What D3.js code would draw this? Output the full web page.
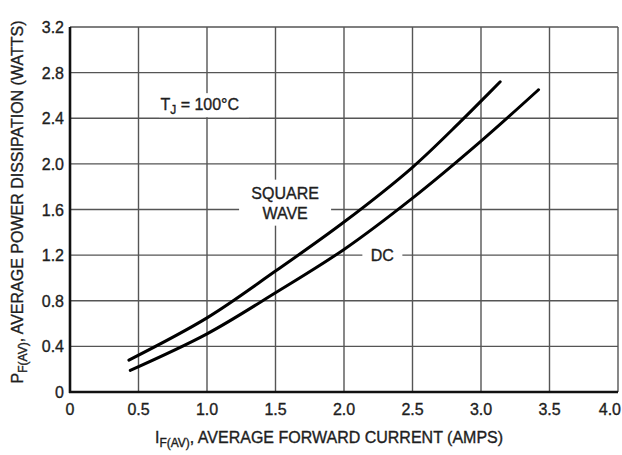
<!DOCTYPE html>
<meta charset="utf-8">
<script src="https://d3js.org/d3.v7.min.js"></script>
<style>
  body { margin: 0; background: #fff; }
  text { font-family: "Liberation Sans", Arial, sans-serif; fill: #1e1e1e; stroke: #1e1e1e; stroke-width: 0.35; }
</style>
<div id="chart"></div>
<script>

// tick values
const xTicks = [0, 0.5, 1.0, 1.5, 2.0, 2.5, 3.0, 3.5, 4.0]
const yTicks = [0, 0.4, 0.8, 1.2, 1.6, 2.0, 2.4, 2.8, 3.2]

// curves: [I F(AV) amps, P F(AV) watts]
const squareWave = [[0.43, 0.28], [1.0, 0.65], [1.5, 1.06], [2.0, 1.49], [2.5, 1.97], [2.85, 2.37], [3.0, 2.55], [3.14, 2.72]]
const dc = [[0.44, 0.19], [1.0, 0.51], [1.5, 0.87], [2.0, 1.25], [2.5, 1.70], [3.0, 2.20], [3.42, 2.65]]

const width = 622, height = 455
const margin = {top: 27, right: 4, bottom: 63, left: 70}

const svg = d3.select("#chart").append("svg")
    .attr("width", width)
    .attr("height", height)

const x = d3.scaleLinear().domain([0, 4]).range([margin.left, width - margin.right])
const y = d3.scaleLinear().domain([0, 3.2]).range([height - margin.bottom, margin.top])

// grid
svg.append("g").selectAll("line").data(xTicks.slice(1)).join("line")
    .attr("x1", d => x(d)).attr("x2", d => x(d))
    .attr("y1", y(0)).attr("y2", y(3.2))
    .attr("stroke", "#555").attr("stroke-width", 1.4)
svg.append("g").selectAll("line").data(yTicks.slice(1)).join("line")
    .attr("x1", x(0)).attr("x2", x(4))
    .attr("y1", d => y(d)).attr("y2", d => y(d))
    .attr("stroke", "#555").attr("stroke-width", 1.4)

// white boxes behind the in-plot labels (drawn under the curves)
const labels = [
  {lines: ["SQUARE", "WAVE"], cx: 1.57, cy: 1.66, box: [92, 46]},
  {lines: ["DC"], cx: 2.28, cy: 1.2, box: [40, 24]}
]
svg.append("g").selectAll("rect").data(labels).join("rect")
    .attr("x", d => x(d.cx) - d.box[0] / 2)
    .attr("y", d => y(d.cy) - d.box[1] / 2)
    .attr("width", d => d.box[0])
    .attr("height", d => d.box[1])
    .attr("fill", "#fff")

svg.append("rect")
    .attr("x", x(0.65)).attr("y", y(2.62))
    .attr("width", 90).attr("height", 24)
    .attr("fill", "#fff")

// curves
const line = d3.line().x(d => x(d[0])).y(d => y(d[1])).curve(d3.curveCatmullRom.alpha(0.5))
svg.append("g").selectAll("path").data([squareWave, dc]).join("path")
    .attr("d", line)
    .attr("fill", "none")
    .attr("stroke", "#000")
    .attr("stroke-width", 3)
    .attr("stroke-linecap", "round")

// axes (just the thick lines + labels)
svg.append("line")
    .attr("x1", x(0)).attr("x2", x(0)).attr("y1", y(0) + 1).attr("y2", y(3.2))
    .attr("stroke", "#111").attr("stroke-width", 2.6)
svg.append("line")
    .attr("x1", x(0) - 1).attr("x2", x(4)).attr("y1", y(0)).attr("y2", y(0))
    .attr("stroke", "#111").attr("stroke-width", 2.6)

const fmt = d => d === 0 ? "0" : d3.format(".1f")(d)

svg.append("g").selectAll("text").data(xTicks).join("text")
    .attr("x", d => d === 4 ? width - 1 : x(d))
    .attr("y", y(0) + 23)
    .attr("text-anchor", d => d === 4 ? "end" : "middle")
    .attr("font-size", 16)
    .text(fmt)

svg.append("g").selectAll("text").data(yTicks).join("text")
    .attr("x", x(0) - 6)
    .attr("y", d => y(d) + 6)
    .attr("text-anchor", "end")
    .attr("font-size", 16)
    .text(fmt)

// axis titles
const xt = svg.append("text")
    .attr("x", 329)
    .attr("y", height - 12)
    .attr("text-anchor", "middle")
    .attr("font-size", 16)
xt.append("tspan").text("I")
xt.append("tspan").attr("font-size", 12).attr("dy", 4).text("F(AV)")
xt.append("tspan").attr("dy", -4).text(", AVERAGE FORWARD CURRENT (AMPS)")

const yt = svg.append("text")
    .attr("transform", `translate(23,202) rotate(-90)`)
    .attr("text-anchor", "middle")
    .attr("font-size", 16)
yt.append("tspan").text("P")
yt.append("tspan").attr("font-size", 12).attr("dy", 4).text("F(AV)")
yt.append("tspan").attr("dy", -4).text(", AVERAGE POWER DISSIPATION (WATTS)")

// in-plot labels
svg.append("g").selectAll("text").data(labels).join("text")
    .attr("text-anchor", "middle")
    .attr("font-size", 16)
    .each(function(d) {
      d.lines.forEach((s, i) => {
        d3.select(this).append("tspan")
            .attr("x", x(d.cx))
            .attr("y", y(d.cy) + 6 + (i - (d.lines.length - 1) / 2) * 20)
            .text(s)
      })
    })

// T_J annotation
const tj = svg.append("text")
    .attr("x", x(0.66))
    .attr("y", y(2.62) + 17)
    .attr("font-size", 16)
tj.append("tspan").text("T")
tj.append("tspan").attr("font-size", 12).attr("dy", 4).text("J")
tj.append("tspan").attr("dy", -4).text(" = 100\u00B0C")

</script>
